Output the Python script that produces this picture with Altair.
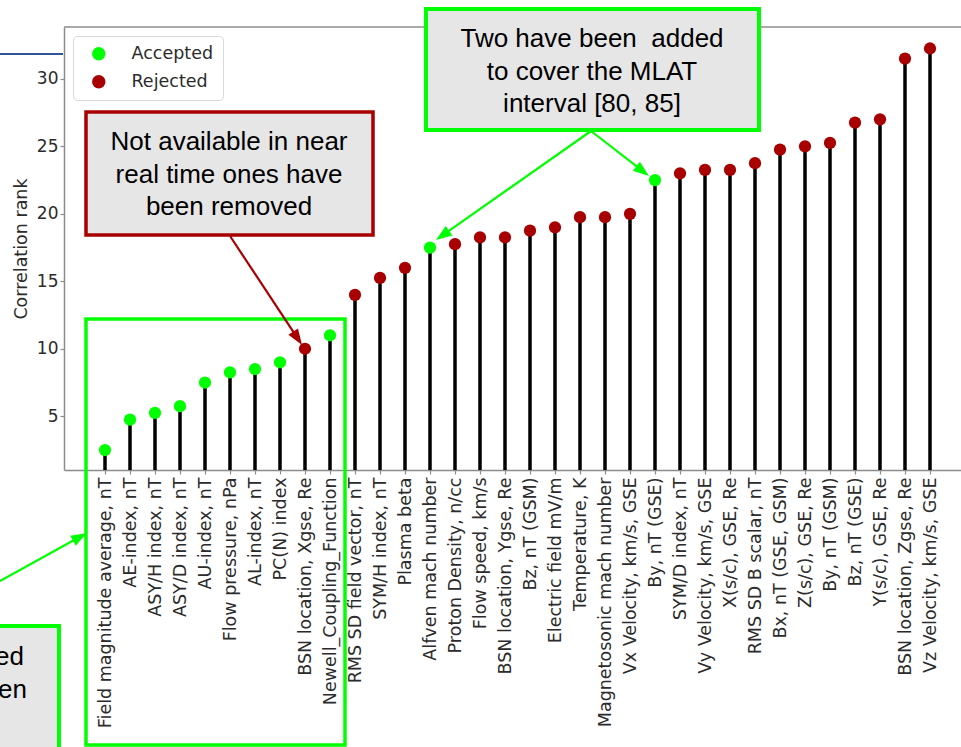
import json
import math

import altair as alt
import pandas as pd

# ---- data -------------------------------------------------------------
features = [
    "Field magnitude average, nT", "AE-index, nT", "ASY/H index, nT", "ASY/D index, nT",
    "AU-index, nT", "Flow pressure, nPa", "AL-index, nT", "PC(N) index",
    "BSN location, Xgse, Re", "Newell_Coupling_Function", "RMS SD field vector, nT",
    "SYM/H index, nT", "Plasma beta", "Alfven mach number", "Proton Density, n/cc",
    "Flow speed, km/s", "BSN location, Ygse, Re", "Bz, nT (GSM)", "Electric field mV/m",
    "Temperature, K", "Magnetosonic mach number", "Vx Velocity, km/s, GSE", "By, nT (GSE)",
    "SYM/D index, nT", "Vy Velocity, km/s, GSE", "X(s/c), GSE, Re", "RMS SD B scalar, nT",
    "Bx, nT (GSE, GSM)", "Z(s/c), GSE, Re", "By, nT (GSM)", "Bz, nT (GSE)",
    "Y(s/c), GSE, Re", "BSN location, Zgse, Re", "Vz Velocity, km/s, GSE",
]
ranks = [
    2.5, 4.75, 5.25, 5.75, 7.5, 8.25, 8.5, 9.0, 10.0, 11.0,
    14.0, 15.25, 16.0, 17.5, 17.75, 18.25, 18.25, 18.75, 19.0, 19.75,
    19.75, 20.0, 22.5, 23.0, 23.25, 23.25, 23.75, 24.75, 25.0, 25.25,
    26.75, 27.0, 31.5, 32.25,
]
status = (
    ["Accepted"] * 8 + ["Rejected", "Accepted"] + ["Rejected"] * 3 + ["Accepted"]
    + ["Rejected"] * 8 + ["Accepted"] + ["Rejected"] * 11
)
status_order = ["Accepted", "Rejected"]

df = pd.DataFrame({
    "idx": list(range(len(features))),
    "feature": features,
    "rank": ranks,
    "status": status,
})

# ---- layout -------------------------------------------------------------
PAD_L, PAD_T = 64, 27
W, H = 961 - PAD_L, 470 - PAD_T
GREEN = "#00FF00"
RED = "#A80000"
BOX_FILL = "#E6E6E6"
SPINE = "#8C8C8C"
TXT = "#2B2B2B"
SANS = "DejaVu Sans"
CALLOUT_FONT = "Liberation Sans"


def px(x):
    """Page x to plot-area x."""
    return x - PAD_L


def py(y):
    """Page y to plot-area y."""
    return y - PAD_T


one = alt.Chart(pd.DataFrame({"k": [0]}))

x_enc = alt.X(
    "idx:Q",
    scale=alt.Scale(domain=[-1.64, 34.24], nice=False, zero=False),
    axis=alt.Axis(
        values=list(range(len(features))),
        labelExpr=json.dumps(features) + "[datum.value]",
        labelAngle=270,
        labelOverlap=False,
        labelFlush=False,
        labelLimit=0,
        labelFontSize=17.5,
        labelPadding=3,
        tickSize=4,
        grid=False,
        title=None,
    ),
)
y_enc = alt.Y(
    "rank:Q",
    scale=alt.Scale(domain=[1.02, 33.84], nice=False, zero=False),
    axis=alt.Axis(
        values=[5, 10, 15, 20, 25, 30],
        title="Correlation rank",
        titleFontSize=17.5,
        titlePadding=6,
        labelFontSize=17,
        labelPadding=2,
        tickSize=4,
        grid=False,
    ),
)

top_spine = one.mark_rule(color=SPINE, strokeWidth=1.5).encode(
    x=alt.value(0), x2=alt.value(W), y=alt.value(0)
)

stems = alt.Chart(df).mark_rule(color="black", strokeWidth=3.5).encode(
    x=x_enc, y=y_enc, y2=alt.value(H)
)

dots = alt.Chart(df).mark_circle(size=150, opacity=1).encode(
    x=x_enc,
    y=y_enc,
    color=alt.Color(
        "status:N",
        scale=alt.Scale(domain=status_order, range=[GREEN, RED]),
        title=None,
        legend=alt.Legend(
            orient="none",
            legendX=9,
            legendY=9,
            padding=9,
            fillColor="white",
            strokeColor="#D9D9D9",
            cornerRadius=4,
            symbolType="circle",
            symbolSize=180,
            symbolOpacity=1,
            symbolStrokeWidth=0,
            symbolOffset=8,
            labelFont=SANS,
            labelFontSize=17.5,
            labelColor=TXT,
            labelOffset=24,
            rowPadding=9,
        ),
    ),
)


def box(x0, y0, x1, y1, stroke, fill=None, width=3.5):
    kw = dict(stroke=stroke, strokeWidth=width)
    if fill:
        kw["fill"] = fill
    else:
        kw["fillOpacity"] = 0
    return one.mark_rect(**kw).encode(
        x=alt.value(px(x0)), x2=alt.value(px(x1)),
        y=alt.value(py(y0)), y2=alt.value(py(y1)),
    )


def caption(lines, cx, first_y, align="center", size=26):
    """Multi-line callout text; first_y is the centre of the first line."""
    return one.mark_text(
        font=CALLOUT_FONT, fontSize=size, color="black",
        align=align, baseline="middle", lineHeight=32.5,
    ).encode(x=alt.value(px(cx)), y=alt.value(py(first_y)), text=alt.value(lines))


HEAD = "M0,0L0.36,1L-0.36,1Z"


def arrow(x0, y0, x1, y1, color, width=2.2, head=16):
    dx, dy = x1 - x0, y1 - y0
    length = math.hypot(dx, dy)
    ux, uy = dx / length, dy / length
    ex, ey = x1 - ux * head * 0.85, y1 - uy * head * 0.85
    shaft = one.mark_rule(color=color, strokeWidth=width).encode(
        x=alt.value(px(x0)), y=alt.value(py(y0)),
        x2=alt.value(px(ex)), y2=alt.value(py(ey)),
    )
    ang = math.degrees(math.atan2(dx, -dy)) % 360
    tip = one.mark_point(
        shape=HEAD, filled=True, fill=color, strokeWidth=0, opacity=1,
        size=(head * 2) ** 2, angle=ang,
    ).encode(x=alt.value(px(x1)), y=alt.value(py(y1)))
    return shaft + tip


blue_line = one.mark_rule(color="#2F5597", strokeWidth=2).encode(
    x=alt.value(px(0)), x2=alt.value(px(63)), y=alt.value(py(54))
)

layers = [
    blue_line,
    top_spine,
    stems,
    dots,
    box(86, 319, 345, 745, GREEN),
    box(86, 112, 373, 235, RED, BOX_FILL),
    caption(["Not available in near", "real time ones have", "been removed"], 229, 142),
    arrow(230, 236, 302, 345, RED),
    box(426, 9, 759, 130, GREEN, BOX_FILL, width=4),
    caption(["Two have been\u00a0 added", "to cover the MLAT", "interval [80, 85]"], 592, 39),
    arrow(591, 131, 436, 240, GREEN),
    arrow(591, 131, 649, 176, GREEN),
    box(-40, 626, 59, 790, GREEN, BOX_FILL, width=4),
    caption(["ed"], 24, 657, align="right"),
    caption(["en"], 27, 690, align="right"),
    arrow(-2, 582, 87, 533, GREEN),
]

chart = (
    alt.layer(*layers)
    .properties(
        width=W,
        height=H,
        autosize=alt.AutoSizeParams(type="none"),
        padding={"left": PAD_L, "top": PAD_T, "right": 0, "bottom": 747 - PAD_T - H},
    )
    .configure_view(stroke=None)
    .configure_axis(
        labelFont=SANS,
        titleFont=SANS,
        labelColor=TXT,
        titleColor=TXT,
        titleFontWeight="normal",
        domainColor=SPINE,
        domainWidth=1.5,
        tickColor=SPINE,
        tickWidth=1.2,
    )
)

chart.save("out.html", embed_options={"renderer": "svg", "actions": False})
